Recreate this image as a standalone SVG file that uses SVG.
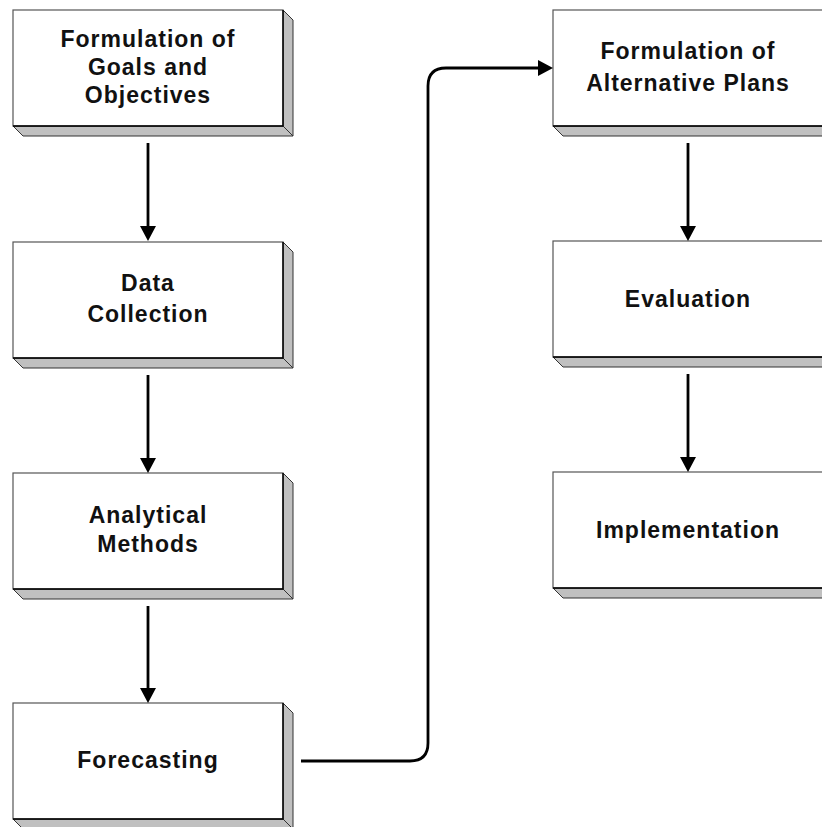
<svg xmlns="http://www.w3.org/2000/svg" width="822" height="827" viewBox="0 0 822 827">
  <defs>
    <style>
      .face { fill: #ffffff; stroke: #555555; stroke-width: 1.2; }
      .edge { fill: none; stroke: #000000; stroke-width: 1.4; }
      .side { fill: #c0c0c0; stroke: #333333; stroke-width: 1; stroke-linejoin: miter; }
      .label { font-family: "Liberation Sans", Arial, Helvetica, sans-serif; font-weight: bold; font-size: 23px; letter-spacing: 1px; fill: #111111; text-anchor: middle; }
      .wire { fill: none; stroke: #000000; stroke-width: 2.8; }
    </style>
    <marker id="head" viewBox="0 0 15 16" refX="5" refY="8" markerWidth="15" markerHeight="16" markerUnits="userSpaceOnUse" orient="auto">
      <path d="M0,0 L15,8 L0,16 Z" fill="#000000"/>
    </marker>
    <!-- raised box: 270x116 face with 10px bevel to the lower right -->
    <g id="box3d">
      <polygon class="side" points="270,0 280,10 280,126 270,116"/>
      <polygon class="side" points="0,116 270,116 280,126 10,126"/>
      <rect class="face" x="0" y="0" width="270" height="116"/>
      <polyline class="edge" points="0,116 270,116 270,0"/>
    </g>
  </defs>

  <rect width="822" height="827" fill="#ffffff"/>

  <g id="goals">
    <use href="#box3d" x="13" y="10"/>
    <text class="label" x="148" y="47">Formulation of</text>
    <text class="label" x="148" y="75">Goals and</text>
    <text class="label" x="148" y="103">Objectives</text>
  </g>

  <g id="data-collection">
    <use href="#box3d" x="13" y="242"/>
    <text class="label" x="148" y="291">Data</text>
    <text class="label" x="148" y="322">Collection</text>
  </g>

  <g id="analytical-methods">
    <use href="#box3d" x="13" y="473"/>
    <text class="label" x="148" y="523">Analytical</text>
    <text class="label" x="148" y="552">Methods</text>
  </g>

  <g id="forecasting">
    <use href="#box3d" x="13" y="703"/>
    <text class="label" x="148" y="768">Forecasting</text>
  </g>

  <g id="alternative-plans">
    <use href="#box3d" x="553" y="10"/>
    <text class="label" x="688" y="59">Formulation of</text>
    <text class="label" x="688" y="91">Alternative Plans</text>
  </g>

  <g id="evaluation">
    <use href="#box3d" x="553" y="241"/>
    <text class="label" x="688" y="307">Evaluation</text>
  </g>

  <g id="implementation">
    <use href="#box3d" x="553" y="472"/>
    <text class="label" x="688" y="538">Implementation</text>
  </g>

  <g id="connectors">
    <path class="wire" d="M148,143 V231" marker-end="url(#head)"/>
    <path class="wire" d="M148,375 V463" marker-end="url(#head)"/>
    <path class="wire" d="M148,606 V693" marker-end="url(#head)"/>
    <path class="wire" d="M688,143 V231" marker-end="url(#head)"/>
    <path class="wire" d="M688,374 V462" marker-end="url(#head)"/>
    <path class="wire" d="M301,761 H410 Q428,761 428,743 V86 Q428,68 446,68 H543" marker-end="url(#head)"/>
  </g>
</svg>
